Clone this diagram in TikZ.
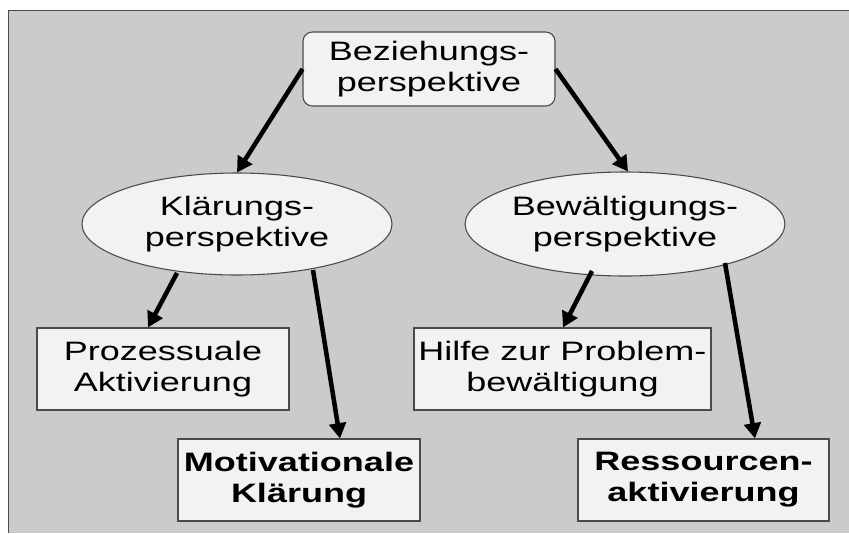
\documentclass[tikz,border=0pt]{standalone}
\usepackage{fontspec}
\setmainfont{Liberation Sans}[FakeStretch=1.35]
\usetikzlibrary{shapes.geometric,arrows.meta,calc}
\definecolor{bg}{HTML}{CBCBCB}
\definecolor{boxfill}{HTML}{F2F2F2}
\definecolor{edge}{HTML}{4A4A4A}
\begin{document}
\begin{tikzpicture}[x=0.75pt,y=-0.75pt,
  lbl/.style={font=\fontsize{20}{23.25}\selectfont, align=center, inner sep=0pt},
  rbox/.style={lbl, draw=edge, line width=0.8pt, fill=boxfill, rectangle, minimum height=61.5pt},
  ell/.style={lbl, draw=edge, line width=0.8pt, fill=boxfill, ellipse},
  conn/.style={line width=3.4pt, -{Triangle[length=11.5pt,width=12.5pt]}, black}]
\useasboundingbox (0,0) rectangle (849,533);
\fill[bg] (8.5,10.5) rectangle (849,533);
\draw[edge, line width=1.2pt] (8.5,533) -- (8.5,10.5) -- (849,10.5);

\node[rbox, rounded corners=7pt, minimum width=189pt, minimum height=55.5pt] (bez) at (429,69) {Beziehungs-\\perspektive};
\node[ell, minimum width=232.5pt, minimum height=76.5pt] (kl) at (237,224) {Klärungs-\\perspektive};
\node[ell, minimum width=228pt, minimum height=78pt] (bew) at (625,224) {Bewältigungs-\\perspektive};

\node[rbox, minimum width=189pt] (proz) at (163,369) {Prozessuale\\Aktivierung};
\node[rbox, minimum width=181.5pt, font=\fontsize{20}{23.25}\selectfont\bfseries] (motiv) at (299,480) {Motivationale\\Klärung};
\node[rbox, minimum width=222.75pt] (hilfe) at (562.5,369) {Hilfe zur Problem-\\bewältigung};
\node[rbox, minimum width=188.25pt, font=\fontsize{20}{23.25}\selectfont\bfseries] (ress) at (703.5,480) {Ressourcen-\\aktivierung};

\draw[conn] (bez.west) -- (kl.north);
\draw[conn] (bez.east) -- ($(bew.north)+(3,0)$);
\draw[conn] ($(kl.center)+(-60,49)$) -- ($(proz.north)+(-15,0)$);
\draw[conn] ($(kl.center)+(76,46)$) -- ($(motiv.north)+(41,0)$);
\draw[conn] ($(bew.center)+(-33,47)$) -- ($(hilfe.north)+(0.5,0)$);
\draw[conn] ($(bew.center)+(100,39)$) -- ($(ress.north)+(51.5,0)$);
\end{tikzpicture}
\end{document}
